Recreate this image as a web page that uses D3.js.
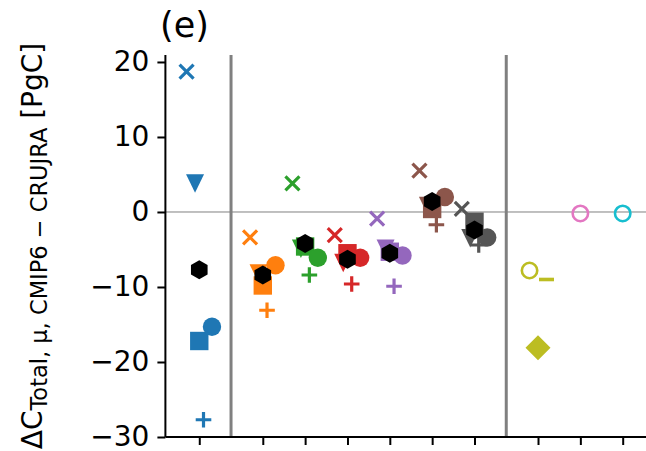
<!DOCTYPE html>
<html><head><meta charset="utf-8">
<script src="https://cdn.jsdelivr.net/npm/d3@7"></script>
<style>body{margin:0;background:#fff} text{font-family:"DejaVu Sans",sans-serif;fill:#000}</style>
</head><body><svg id="c" width="646" height="451"></svg>
<script>
// ---- data ----
const modelPos    = [0, 1.5, 2.5, 3.5, 4.5, 5.5, 6.5];
const modelColors = ["#1f77b4","#ff7f0e","#2ca02c","#d62728","#9467bd","#8c564b","#555555"];
const crossVals   = [18.7, -3.4, 3.8, -3.1, -0.9, 5.5, 0.4];
const triVals     = [3.8, -8.2, -4.9, -6.8, -4.9, 0.8, -3.5];
const squareVals  = [-17.2, -9.8, -4.6, -5.5, -5.3, 0.4, -1.3];
const circleVals  = [-15.3, -7.1, -6.1, -6.1, -5.8, 2.0, -3.4];
const plusVals    = [-27.7, -13.1, -8.4, -9.6, -9.9, -1.7, -4.4];
const hexVals     = [-7.7, -8.4, -4.2, -6.3, -5.5, 1.4, -2.4];
// right-hand group
const extraPos    = [8, 9, 10];
const extraColors = ["#bcbd22", "#e377c2", "#17becf"];
const openCircleVals = [-7.8, -0.2, -0.2];
const hlineVals   = [-9.0];
const diamondVals = [-18.1];
const xTicks = [0, 1.5, 2.5, 3.5, 4.5, 5.5, 6.5, 8, 9, 10];
const yTicks = [20, 10, 0, -10, -20, -30];
const separators = [0.75, 7.25];

// ---- layout ----
const svg = d3.select("#c");
const x = d3.scaleLinear().domain([-0.8, 10.6]).range([165.4, 648.1]);
const y = d3.scaleLinear().domain([-30, 20.93]).range([437, 55]);

// marker shapes
const mk = {
  hex:{draw(c){const r=9.6;for(let k=0;k<6;k++){const a=Math.PI/2+k*Math.PI/3;const px=r*Math.cos(a),py=-r*Math.sin(a);k?c.lineTo(px,py):c.moveTo(px,py);}c.closePath();}},
  tri:{draw(c){c.moveTo(0,9.2);c.lineTo(-9,-9.2);c.lineTo(9,-9.2);c.closePath();}},
  sq:{draw(c){c.rect(-9.2,-9.2,18.4,18.4);}},
  circ:{draw(c){c.moveTo(9.2,0);c.arc(0,0,9.2,0,2*Math.PI);}},
  ocirc:{draw(c){c.moveTo(7.7,0);c.arc(0,0,7.7,0,2*Math.PI);}},
  plus:{draw(c){c.moveTo(-7.8,0);c.lineTo(7.8,0);c.moveTo(0,-7.8);c.lineTo(0,7.8);}},
  x:{draw(c){c.moveTo(-7,-7);c.lineTo(7,7);c.moveTo(-7,7);c.lineTo(7,-7);}},
  dia:{draw(c){c.moveTo(0,-12.5);c.lineTo(12.5,0);c.lineTo(0,12.5);c.lineTo(-12.5,0);c.closePath();}},
  hline:{draw(c){c.moveTo(-7.5,0);c.lineTo(7.5,0);}}
};
const sym = t => d3.symbol().type(mk[t])();

// zero line
svg.append("line").attr("x1", x(-0.8)).attr("x2", 646).attr("y1", y(0)).attr("y2", y(0))
  .attr("stroke", "#808080").attr("stroke-width", 1);
// separators
svg.selectAll("line.sep").data(separators).enter().append("line")
  .attr("x1", d => x(d)).attr("x2", d => x(d)).attr("y1", y(-30)).attr("y2", y(20.93))
  .attr("stroke", "#808080").attr("stroke-width", 3);

// axes
const yAxis = svg.append("g").attr("transform", `translate(${x(-0.8)},0)`)
  .call(d3.axisLeft(y).tickValues(yTicks).tickSize(8).tickPadding(8)
    .tickFormat(d => d < 0 ? "\u2212" + Math.abs(d) : d));
const xAxis = svg.append("g").attr("transform", `translate(0,${y(-30)})`)
  .call(d3.axisBottom(x).tickValues(xTicks).tickSize(8).tickFormat(""));
[yAxis, xAxis].forEach(g => {
  g.select(".domain").attr("stroke", "#000").attr("stroke-width", 2);
  g.selectAll(".tick line").attr("stroke", "#000").attr("stroke-width", 2);
  g.selectAll("text").style("font-family", "DejaVu Sans").style("font-size", "28px").attr("fill", "#000");
});
yAxis.select(".domain").attr("d", `M0,${y(-30)}V${y(20.93)}`);
xAxis.select(".domain").attr("d", `M${x(-0.8)},0H646`);

// markers
function place(t, pos, off, val, color, opts = {}) {
  const p = svg.append("path").attr("d", sym(t))
    .attr("transform", `translate(${x(pos + off)},${y(val)})`);
  if (opts.stroke) p.attr("fill", "none").attr("stroke", color).attr("stroke-width", opts.sw);
  else p.attr("fill", color);
}
modelPos.forEach((p, i) => {
  const c = modelColors[i];
  place("x", p, -0.3, crossVals[i], c, {stroke: true, sw: 3.2});
  place("tri", p, -0.1, triVals[i], c);
  place("sq", p, 0, squareVals[i], c);
  place("circ", p, 0.3, circleVals[i], c);
  place("plus", p, 0.1, plusVals[i], c, {stroke: true, sw: 3.2});
  place("hex", p, 0, hexVals[i], "#000");
});
place("ocirc", extraPos[0], -0.2, openCircleVals[0], extraColors[0], {stroke: true, sw: 2.6});
place("hline", extraPos[0], 0.2, hlineVals[0], extraColors[0], {stroke: true, sw: 3.6});
place("dia", extraPos[0], 0, diamondVals[0], extraColors[0]);
place("ocirc", extraPos[1], 0, openCircleVals[1], extraColors[1], {stroke: true, sw: 2.6});
place("ocirc", extraPos[2], 0, openCircleVals[2], extraColors[2], {stroke: true, sw: 2.6});

// title
svg.append("text").attr("x", 160).attr("y", 37).style("font-size", "35px").text("(e)");

// y label
const yl = svg.append("text").attr("transform", "translate(42,246) rotate(-90)")
  .attr("text-anchor", "middle").style("font-size", "28px");
yl.append("tspan").text("\u0394C");
yl.append("tspan").attr("dy", 5).style("font-size", "22.5px").text("Total, \u03bc, CMIP6 \u2212 CRUJRA");
yl.append("tspan").attr("dy", -5).text(" [PgC]");
</script></body></html>
